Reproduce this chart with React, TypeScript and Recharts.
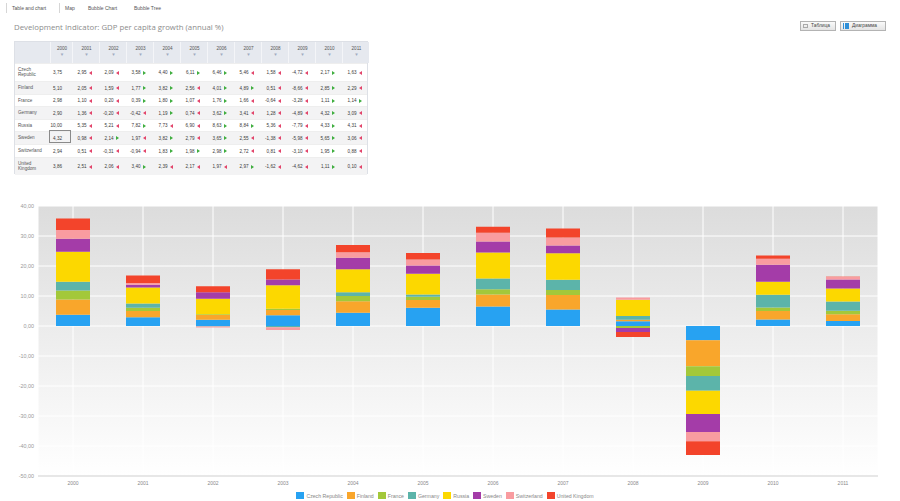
import React from 'react';
import { BarChart, Bar, XAxis, YAxis, CartesianGrid, Legend } from 'recharts';

const years = ['2000', '2001', '2002', '2003', '2004', '2005', '2006', '2007', '2008', '2009', '2010', '2011'];
const countries = ['Czech Republic', 'Finland', 'France', 'Germany', 'Russia', 'Sweden', 'Switzerland', 'United Kingdom'];
const colors = ['#27a2f2', '#f9a62b', '#a3c83a', '#5cb4aa', '#fcd800', '#a43ca8', '#f99ca0', '#f3442b'];

const czech = [3.75, 2.95, 2.09, 3.58, 4.4, 6.11, 6.46, 5.46, 1.58, -4.72, 2.17, 1.63];
const finland = [5.1, 2.05, 1.59, 1.77, 3.82, 2.56, 4.01, 4.89, 0.51, -8.66, 2.85, 2.29];
const france = [2.98, 1.1, 0.2, 0.39, 1.8, 1.07, 1.76, 1.66, -0.64, -3.28, 1.11, 1.14];
const germany = [2.9, 1.36, -0.2, -0.42, 1.19, 0.74, 3.62, 3.41, 1.28, -4.89, 4.32, 3.09];
const russia = [10.0, 5.35, 5.21, 7.82, 7.73, 6.9, 8.63, 8.84, 5.36, -7.79, 4.33, 4.31];
const sweden = [4.32, 0.98, 2.14, 1.97, 3.82, 2.79, 3.65, 2.55, -1.38, -5.98, 5.65, 3.06];
const switzerland = [2.94, 0.51, -0.31, -0.94, 1.83, 1.98, 2.98, 2.72, 0.81, -3.1, 1.95, 0.88];
const uk = [3.86, 2.51, 2.06, 3.4, 2.39, 2.17, 1.97, 2.97, -1.62, -4.62, 1.11, 0.1];

const series = [czech, finland, france, germany, russia, sweden, switzerland, uk];
const yTicks = [-50, -40, -30, -20, -10, 0, 10, 20, 30, 40];
const tabs = ['Table and chart', 'Map', 'Bubble Chart', 'Bubble Tree'];

const data = years.map((y, i) => {
  const row: any = { year: y };
  countries.forEach((c, k) => { row[c] = series[k][i]; });
  return row;
});

const fmt = (v: number) => v.toFixed(2).replace('.', ',');

// table geometry
const colStarts = [49, 71, 98, 125, 152, 179, 206, 233, 260, 287, 314, 341];
const colWidths = [22, 27, 27, 27, 27, 27, 27, 27, 27, 27, 27, 27];
const rowTops = [62, 80, 93, 105, 118, 130, 143, 156];
const rowHeights = [18, 13, 12, 13, 12, 13, 13, 18];

const small = { fontFamily: 'Liberation Sans, Arial, sans-serif', fontSize: 4.6, color: '#3a3a3a' };

function Arrow({ up }: { up: boolean }) {
  return up ? (
    <span style={{ position: 'absolute', width: 0, height: 0, borderTop: '2.2px solid transparent', borderBottom: '2.2px solid transparent', borderLeft: '3px solid #3fae3f' }} />
  ) : (
    <span style={{ position: 'absolute', width: 0, height: 0, borderTop: '2.2px solid transparent', borderBottom: '2.2px solid transparent', borderRight: '3px solid #e2446a' }} />
  );
}

function Table() {
  return (
    <div style={{ position: 'absolute', left: 14, top: 41, width: 354, height: 133, border: '1px solid #dde0e6', boxSizing: 'border-box', background: '#fff' }}>
      <div style={{ position: 'absolute', left: 0, top: 0, width: 354, height: 21, background: '#e6e9ef' }} />
      {years.map((y, i) => (
        <div key={y} style={{ ...small, position: 'absolute', left: colStarts[i] - 14, top: 0, width: colWidths[i], height: 21, borderLeft: '1px solid #f4f5f8', textAlign: 'center', color: '#555' }}>
          <div style={{ marginTop: 3.5 }}>{y}</div>
          <div style={{ color: '#a0abc0', fontSize: 4.5, marginTop: 1.5 }}>▼</div>
        </div>
      ))}
      {countries.map((c, r) => {
        const top = rowTops[r] - 41;
        const h = rowHeights[r];
        const parts = c.split(' ');
        return (
          <div key={c} style={{ position: 'absolute', left: 0, top, width: 352, height: h, background: r % 2 === 1 ? '#f3f3f4' : '#fff', borderTop: '1px solid #eeeeee', boxSizing: 'border-box' }}>
            <div style={{ ...small, position: 'absolute', left: 3, top: 0, height: h, display: 'flex', flexDirection: 'column', justifyContent: 'center', lineHeight: '4.8px', color: '#555' }}>
              {parts.length > 1 && h > 14 ? parts.map((p) => <div key={p}>{p}</div>) : <div>{c}</div>}
            </div>
            {series[r].map((v, i) => {
              const x = colStarts[i] - 14;
              const center = x + colWidths[i] / 2;
              const prev = i > 0 ? series[r][i - 1] : null;
              return (
                <div key={i}>
                  <div style={{ ...small, position: 'absolute', left: center + 1 - 20, width: 20, top: h / 2 - 2.8, textAlign: 'right', lineHeight: '5px' }}>{fmt(v)}</div>
                  {prev !== null && (
                    <div style={{ position: 'absolute', left: center + 3, top: h / 2 - 2.4 }}>
                      <Arrow up={v > prev} />
                    </div>
                  )}
                </div>
              );
            })}
          </div>
        );
      })}
      <div style={{ position: 'absolute', left: 49 - 15, top: 130 - 42, width: 22, height: 13, border: '1px solid #8a8a8a', boxSizing: 'border-box' }} />
    </div>
  );
}

function LegendContent(props: any) {
  return (
    <div style={{ display: 'flex', justifyContent: 'center', alignItems: 'center', fontFamily: 'Liberation Sans, Arial, sans-serif', fontSize: 5.2, color: '#888', height: 13, paddingLeft: 16 }}>
      {(props.payload || []).map((p: any) => (
        <span key={p.value} style={{ display: 'flex', alignItems: 'center', marginRight: 4 }}>
          <span style={{ display: 'inline-block', width: 8, height: 7, background: p.color, marginRight: 2 }} />
          {p.value}
        </span>
      ))}
    </div>
  );
}

export default function App() {
  return (
    <div style={{ position: 'relative', width: 900, height: 501, background: '#fff', overflow: 'hidden' }}>
      <style>{'body{margin:0}'}</style>
      {/* tabs */}
      <div style={{ position: 'absolute', left: 6, top: 3, height: 10, borderLeft: '1px solid #d6d6d6', borderRight: '1px solid #d6d6d6', width: 52 }} />
      {tabs.map((t, i) => (
        <div key={t} style={{ position: 'absolute', left: [12, 65, 88, 134][i], top: 4, fontFamily: 'Liberation Sans, Arial, sans-serif', fontSize: 5, color: '#555', lineHeight: '8px' }}>{t}</div>
      ))}
      <div style={{ position: 'absolute', left: 14, top: 22, fontFamily: 'Open Sans, sans-serif', fontSize: 7.8, color: '#8c8c8c', lineHeight: '10px' }}>
        Development Indicator: GDP per capita growth (annual %)
      </div>
      {/* view buttons */}
      <div style={{ position: 'absolute', left: 800, top: 21, width: 36, height: 10, border: '1px solid #b3b3b3', boxSizing: 'border-box', background: 'linear-gradient(#fafafa,#e4e4e4)', fontFamily: 'Liberation Sans, Arial, sans-serif', fontSize: 4.8, color: '#444', lineHeight: '8px' }}>
        <span style={{ position: 'absolute', left: 2, top: 2, width: 5, height: 4, border: '1px solid #aaa', boxSizing: 'border-box' }} />
        <span style={{ position: 'absolute', left: 10 }}>Таблица</span>
      </div>
      <div style={{ position: 'absolute', left: 840, top: 21, width: 46, height: 10, border: '1px solid #b3b3b3', boxSizing: 'border-box', background: 'linear-gradient(#fafafa,#e4e4e4)', fontFamily: 'Liberation Sans, Arial, sans-serif', fontSize: 4.8, color: '#444', lineHeight: '8px' }}>
        <span style={{ position: 'absolute', left: 2, top: 1, width: 6, height: 6, background: 'linear-gradient(90deg,#2e8fd8 0 1.5px,transparent 1.5px 2.2px,#2e8fd8 2.2px 3.7px,transparent 3.7px 4.4px,#2e8fd8 4.4px)' }} />
        <span style={{ position: 'absolute', left: 11 }}>Диаграмма</span>
      </div>
      <Table />
      <div style={{ position: 'absolute', left: 0, top: 196 }}>
        <BarChart width={900} height={305} data={data} stackOffset="sign" barSize={34} margin={{ top: 10, right: 22, left: 0, bottom: 0 }}>
          <defs>
            <linearGradient id="plotBg" x1="0" y1="0" x2="0" y2="1">
              <stop offset="0%" stopColor="#dcdcdc" />
              <stop offset="45%" stopColor="#ececec" />
              <stop offset="100%" stopColor="#ffffff" />
            </linearGradient>
          </defs>
          <CartesianGrid stroke="#ffffff" strokeWidth={1} fill="url(#plotBg)" fillOpacity={1} />
          <XAxis dataKey="year" height={13} tickLine={false} tickSize={0} tickMargin={5} axisLine={{ stroke: '#cfcfcf' }} tick={{ fontSize: 5, fill: '#8a8a8a', fontFamily: 'Liberation Sans, Arial, sans-serif' }} interval={0} />
          <YAxis width={38} domain={[-50, 40]} ticks={yTicks} tickFormatter={(v: number) => fmt(v)} axisLine={false} tickLine={false} tickSize={0} tickMargin={4} tick={{ fontSize: 5.4, fill: '#999', fontFamily: 'Liberation Sans, Arial, sans-serif' }} />
          <Legend verticalAlign="bottom" height={12} content={<LegendContent />} />
          {countries.map((c, k) => (
            <Bar key={c} dataKey={c} stackId="a" fill={colors[k]} isAnimationActive={false} />
          ))}
        </BarChart>
      </div>
    </div>
  );
}
